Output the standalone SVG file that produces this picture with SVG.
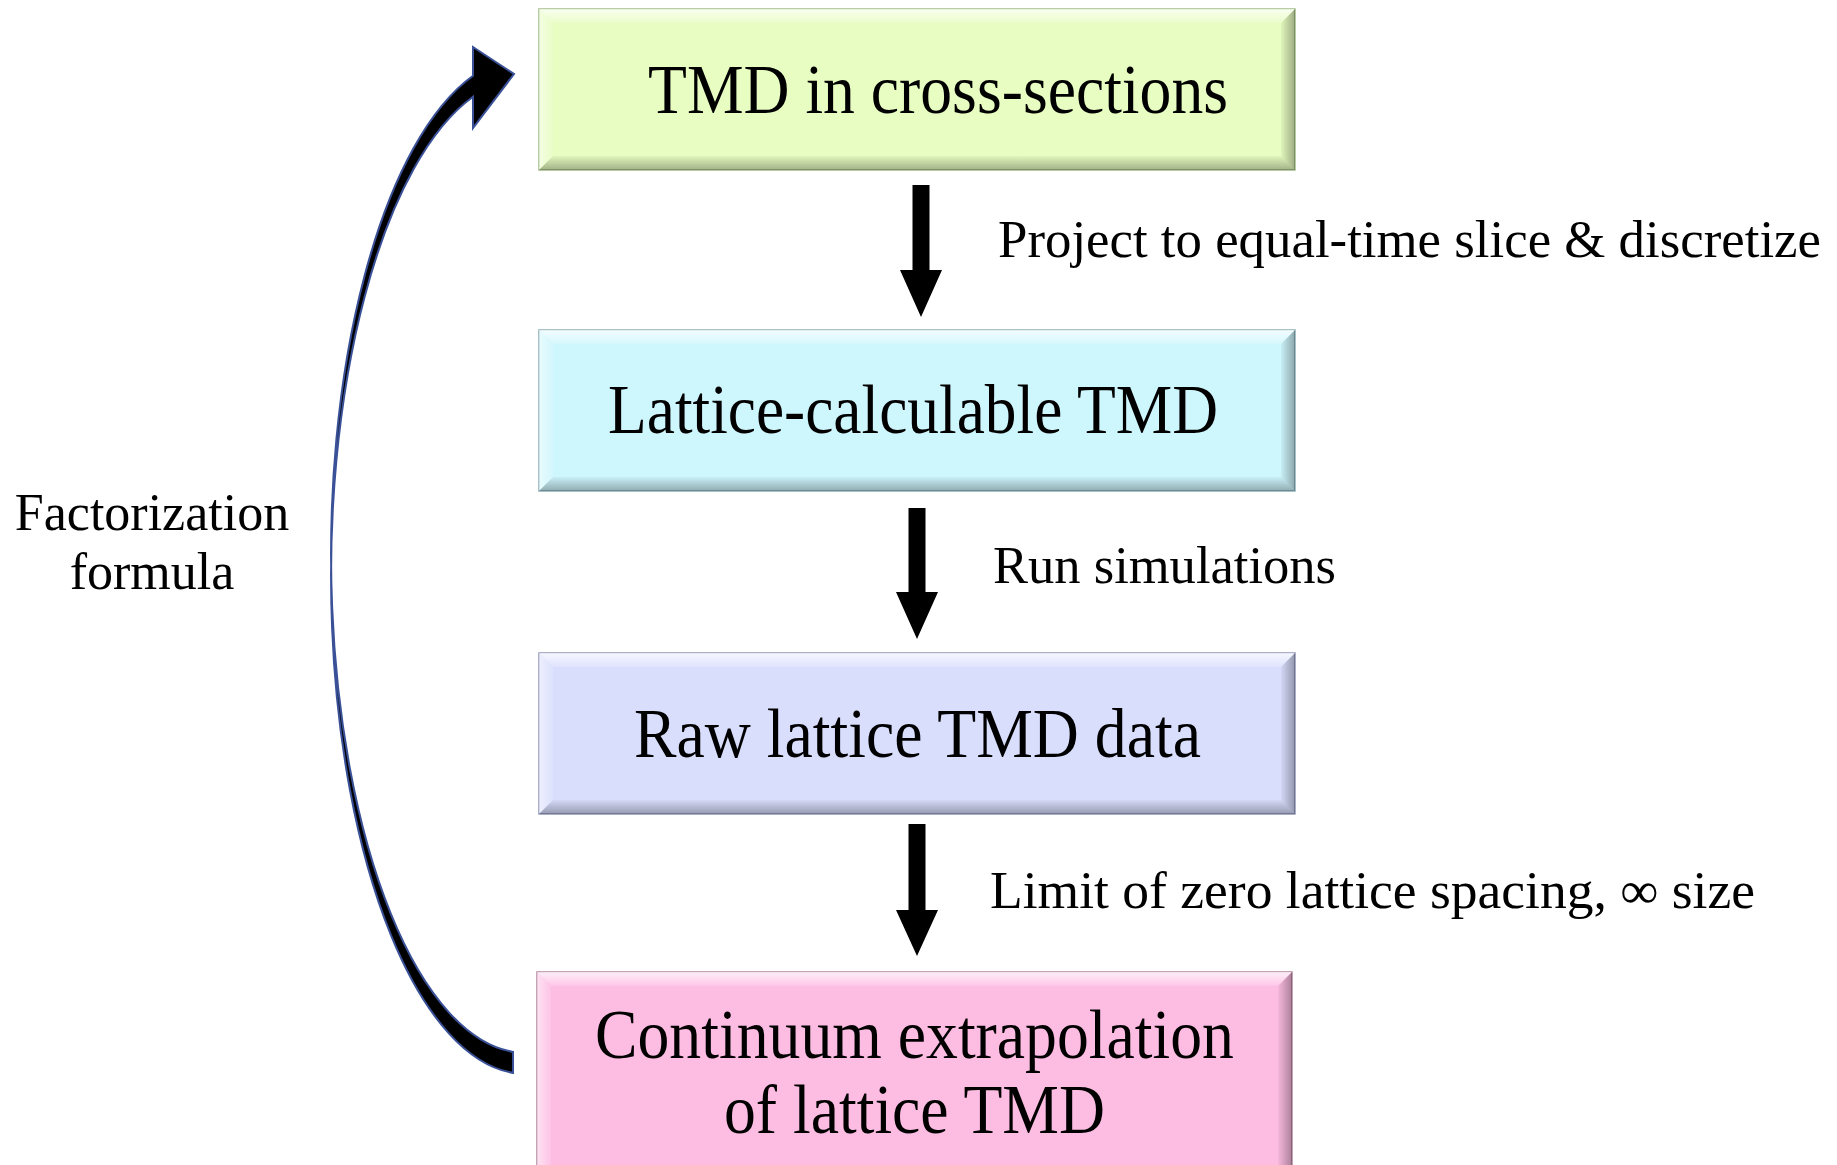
<svg xmlns="http://www.w3.org/2000/svg" width="1837" height="1165" viewBox="0 0 1837 1165">
  <defs>
    <!-- bevel shading, one gradient per edge -->
    <linearGradient id="bvTop" x1="0" y1="0" x2="0" y2="1">
      <stop offset="0" stop-color="#ffffff" stop-opacity="0.75"/>
      <stop offset="1" stop-color="#ffffff" stop-opacity="0.15"/>
    </linearGradient>
    <linearGradient id="bvLeft" x1="0" y1="0" x2="1" y2="0">
      <stop offset="0" stop-color="#ffffff" stop-opacity="0.55"/>
      <stop offset="1" stop-color="#ffffff" stop-opacity="0.1"/>
    </linearGradient>
    <linearGradient id="bvRight" x1="0" y1="0" x2="1" y2="0">
      <stop offset="0" stop-color="#000000" stop-opacity="0.03"/>
      <stop offset="1" stop-color="#000000" stop-opacity="0.32"/>
    </linearGradient>
    <linearGradient id="bvBottom" x1="0" y1="0" x2="0" y2="1">
      <stop offset="0" stop-color="#000000" stop-opacity="0.03"/>
      <stop offset="1" stop-color="#000000" stop-opacity="0.3"/>
    </linearGradient>
  </defs>
  <style>
    .box { stroke-width: 1.5; }
    .bt { fill: url(#bvTop); }
    .bl { fill: url(#bvLeft); }
    .br { fill: url(#bvRight); }
    .bb { fill: url(#bvBottom); }
    .big { font-family: "Liberation Serif", "Times New Roman", serif; font-size: 70px; fill: #000; }
    .lbl { font-family: "Liberation Serif", "Times New Roman", serif; font-size: 52px; fill: #000; }
    .blk { fill: #000; }
    .curve { fill: #000; stroke: #3a5198; stroke-width: 2; stroke-linejoin: miter; }
  </style>

  <rect width="1837" height="1165" fill="#ffffff"/>

  <!-- step 1 -->
  <g id="node-cross-sections">
    <rect class="box" x="539" y="9" width="756" height="161" fill="#e7fdc1" stroke="#a3bd86"/>
    <polygon class="bt" points="539,9 1295,9 1281,23 553,23"/>
    <polygon class="bl" points="539,9 553,23 553,156 539,170"/>
    <polygon class="br" points="1295,9 1295,170 1281,156 1281,23"/>
    <polygon class="bb" points="539,170 1295,170 1281,156 553,156"/>
    <text class="big" x="648" y="113" textLength="580" lengthAdjust="spacingAndGlyphs">TMD in cross-sections</text>
  </g>

  <!-- step 2 -->
  <g id="node-lattice-calculable">
    <rect class="box" x="539" y="330" width="756" height="161" fill="#cef6fd" stroke="#8bb0b9"/>
    <polygon class="bt" points="539,330 1295,330 1281,344 553,344"/>
    <polygon class="bl" points="539,330 553,344 553,477 539,491"/>
    <polygon class="br" points="1295,330 1295,491 1281,477 1281,344"/>
    <polygon class="bb" points="539,491 1295,491 1281,477 553,477"/>
    <text class="big" x="608" y="433" textLength="610" lengthAdjust="spacingAndGlyphs">Lattice-calculable TMD</text>
  </g>

  <!-- step 3 -->
  <g id="node-raw-data">
    <rect class="box" x="539" y="653" width="756" height="161" fill="#d9defd" stroke="#9097b9"/>
    <polygon class="bt" points="539,653 1295,653 1281,667 553,667"/>
    <polygon class="bl" points="539,653 553,667 553,800 539,814"/>
    <polygon class="br" points="1295,653 1295,814 1281,800 1281,667"/>
    <polygon class="bb" points="539,814 1295,814 1281,800 553,800"/>
    <text class="big" x="634" y="757" textLength="567" lengthAdjust="spacingAndGlyphs">Raw lattice TMD data</text>
  </g>

  <!-- step 4 (runs off the lower edge) -->
  <g id="node-continuum">
    <rect class="box" x="537" y="972" width="755" height="210" fill="#fdbde3" stroke="#b4849f"/>
    <polygon class="bt" points="537,972 1292,972 1278,986 551,986"/>
    <polygon class="bl" points="537,972 551,986 551,1168 537,1182"/>
    <polygon class="br" points="1292,972 1292,1182 1278,1168 1278,986"/>
    <text class="big" x="595" y="1058" textLength="639" lengthAdjust="spacingAndGlyphs">Continuum extrapolation</text>
    <text class="big" x="724" y="1133" textLength="381" lengthAdjust="spacingAndGlyphs">of lattice TMD</text>
  </g>

  <g id="connectors">
    <!-- block arrows between steps -->
    <polygon class="blk" points="912.5,185 929.5,185 929.5,270 942,270 921,317 900,270 912.5,270"/>
    <polygon class="blk" points="908.5,508 925.5,508 925.5,592 938,592 917,639 896,592 908.5,592"/>
    <polygon class="blk" points="908.5,824 925.5,824 925.5,910 938,910 917,956 896,910 908.5,910"/>
    <!-- curved feedback arrow: two offset elliptical arcs plus head -->
    <path class="curve" d="M473,75.8 A195,498 0 0 0 513,1051.9 L513,1072.9 A195,498 0 0 1 473,96.8 L473,128 L514,74 L473,47 Z"/>
  </g>

  <!-- connector labels -->
  <g id="labels">
    <text class="lbl" x="998" y="257" textLength="823" lengthAdjust="spacingAndGlyphs">Project to equal-time slice &amp; discretize</text>
    <text class="lbl" x="993" y="583" textLength="343" lengthAdjust="spacingAndGlyphs">Run simulations</text>
    <text class="lbl" x="990" y="908" textLength="765" lengthAdjust="spacingAndGlyphs">Limit of zero lattice spacing, ∞ size</text>
    <text class="lbl" x="152" y="530" text-anchor="middle">Factorization</text>
    <text class="lbl" x="152" y="589" text-anchor="middle">formula</text>
  </g>
</svg>
